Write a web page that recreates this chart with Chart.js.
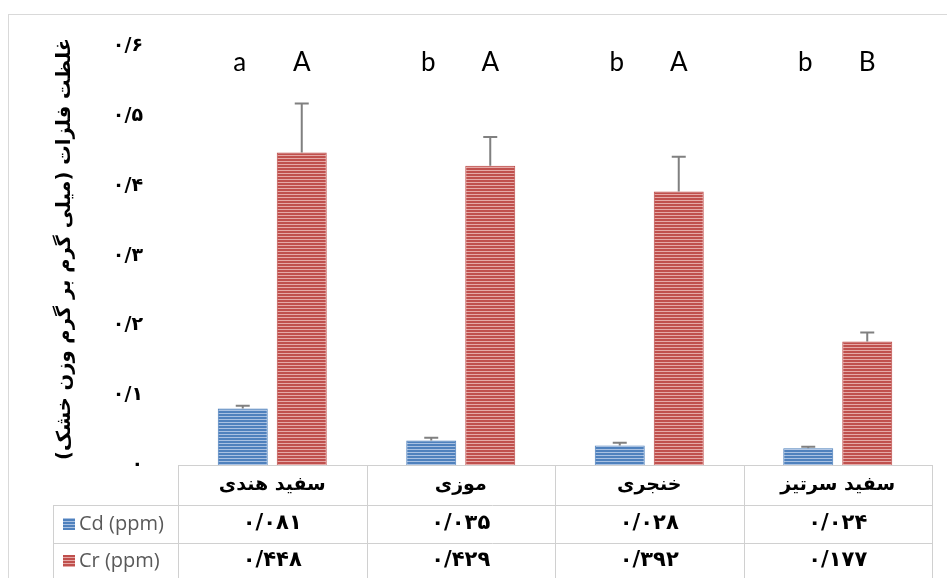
<!DOCTYPE html>
<html>
<head>
<meta charset="utf-8">
<script src="https://cdn.jsdelivr.net/npm/chart.js@4"></script>
<style>
  html, body { margin: 0; padding: 0; background: #fff; }
  canvas { display: block; }
</style>
</head>
<body>
<canvas id="chart" width="947" height="578"></canvas>
<script>
// data
const categories = ['سفید هندی', 'موزی', 'خنجری', 'سفید سرتیز']
const seriesNames = ['Cd (ppm)', 'Cr (ppm)']
const cdValues = [0.081, 0.035, 0.028, 0.024]
const crValues = [0.448, 0.429, 0.392, 0.177]
const cdErrors = [0.004, 0.004, 0.004, 0.002]
const crErrors = [0.070, 0.041, 0.050, 0.013]
const cdLetters = ['a', 'b', 'b', 'b']
const crLetters = ['A', 'A', 'A', 'B']
const yTicks = [0, 0.1, 0.2, 0.3, 0.4, 0.5, 0.6]
const yTitle = 'غلظت فلزات (میلی گرم بر گرم وزن خشک)'

const faDigits = '۰۱۲۳۴۵۶۷۸۹'
function toFa(v, dec) {
    if (v === 0) return '۰'
    return v.toFixed(dec).replace('.', '/').replace(/[0-9]/g, d => faDigits[d])
}

const canvas = document.getElementById('chart')
const ctx = canvas.getContext('2d')

function stripes(base, light) {
    const c = document.createElement('canvas')
    c.width = 4
    c.height = 3
    const g = c.getContext('2d')
    g.fillStyle = base
    g.fillRect(0, 0, 4, 3)
    g.fillStyle = light
    g.fillRect(0, 2, 4, 1)
    return ctx.createPattern(c, 'repeat')
}

const blueFill = stripes('#4f81bd', '#a9c1e2')
const redFill = stripes('#c0504d', '#e5a9a7')
const errors = [cdErrors, crErrors]
const letters = [cdLetters, crLetters]
const persianFont = '"DejaVu Sans", sans-serif'

const extras = {
    id: 'extras',
    beforeDraw(chart) {
        const c = chart.ctx
        c.save()
        c.fillStyle = '#fff'
        c.fillRect(0, 0, chart.width, chart.height)
        c.strokeStyle = '#d9d9d9'
        c.lineWidth = 1
        c.strokeRect(8.5, 14.5, 1000, 1000)
        c.restore()
    },
    afterDatasetsDraw(chart) {
        const c = chart.ctx
        const y = chart.scales.y
        c.save()
        c.strokeStyle = '#808080'
        c.lineWidth = 2
        chart.data.datasets.forEach((ds, i) => {
            chart.getDatasetMeta(i).data.forEach((bar, j) => {
                const top = y.getPixelForValue(ds.data[j] + errors[i][j])
                c.beginPath()
                c.moveTo(bar.x, bar.y)
                c.lineTo(bar.x, top)
                c.moveTo(bar.x - 7, top)
                c.lineTo(bar.x + 7, top)
                c.stroke()
            })
        })
        c.restore()
    },
    afterDraw(chart) {
        const c = chart.ctx
        const area = chart.chartArea
        const x = chart.scales.x
        c.save()

        // significance letters
        c.fillStyle = '#000'
        c.font = '26px Lato, sans-serif'
        c.textAlign = 'center'
        c.textBaseline = 'middle'
        chart.data.datasets.forEach((ds, i) => {
            chart.getDatasetMeta(i).data.forEach((bar, j) => {
                c.fillText(letters[i][j], bar.x - (i === 0 ? 3 : 0), 63)
            })
        })

        // y axis title
        c.save()
        c.translate(65, 249)
        c.rotate(-Math.PI / 2)
        c.direction = 'rtl'
        c.font = 'bold 19.5px ' + persianFont
        c.fillText(yTitle, 0, 0)
        c.restore()

        // data table
        const half = (x.getPixelForValue(1) - x.getPixelForValue(0)) / 2
        const left = area.left
        const right = area.right
        const rowTop = area.bottom
        const row1 = rowTop + 40
        const row2 = row1 + 38
        const bottom = chart.height + 2
        const keyLeft = 53
        c.strokeStyle = '#d0d0d0'
        c.lineWidth = 1
        c.beginPath()
        c.moveTo(left, rowTop + 0.5); c.lineTo(right, rowTop + 0.5)
        c.moveTo(keyLeft, row1 + 0.5); c.lineTo(right, row1 + 0.5)
        c.moveTo(keyLeft, row2 + 0.5); c.lineTo(right, row2 + 0.5)
        c.moveTo(keyLeft + 0.5, row1); c.lineTo(keyLeft + 0.5, bottom)
        categories.forEach((cat, j) => {
            const xl = Math.round(x.getPixelForValue(j) - half) + 0.5
            c.moveTo(xl, rowTop); c.lineTo(xl, bottom)
        })
        c.moveTo(Math.round(right) + 0.5, rowTop); c.lineTo(Math.round(right) + 0.5, bottom)
        c.stroke()

        c.fillStyle = '#000'
        c.textAlign = 'center'
        c.textBaseline = 'middle'
        categories.forEach((cat, j) => {
            const cx = x.getPixelForValue(j)
            c.direction = 'rtl'
            c.font = 'bold 19px ' + persianFont
            c.fillText(cat, cx, rowTop + 20)
            c.direction = 'ltr'
            c.font = 'bold 21px ' + persianFont
            c.fillText(toFa(cdValues[j], 3), cx, row1 + 19)
            c.fillText(toFa(crValues[j], 3), cx, row2 + 18)
        })

        // legend keys in the table
        const keys = [blueFill, redFill]
        c.textAlign = 'left'
        c.font = '20px "Open Sans", sans-serif'
        seriesNames.forEach((name, i) => {
            const cy = (i === 0 ? row1 + 19 : row2 + 18)
            c.fillStyle = keys[i]
            c.fillRect(63, cy - 6, 12, 12)
            c.fillStyle = '#595959'
            c.fillText(name, 79, cy)
        })
        c.restore()
    }
}

new Chart(ctx, {
    type: 'bar',
    data: {
        labels: categories,
        datasets: [
            {
                label: seriesNames[0],
                data: cdValues,
                backgroundColor: blueFill,
                borderColor: '#4a7ebb',
                borderWidth: 1
            },
            {
                label: seriesNames[1],
                data: crValues,
                backgroundColor: redFill,
                borderColor: '#be4b48',
                borderWidth: 1
            }
        ]
    },
    options: {
        responsive: false,
        animation: false,
        layout: { padding: { left: 45, right: 15, top: 44, bottom: 113 } },
        datasets: { bar: { categoryPercentage: 0.626, barPercentage: 0.847 } },
        plugins: { legend: { display: false }, tooltip: { enabled: false } },
        scales: {
            x: { display: false },
            y: {
                min: 0,
                max: 0.6,
                afterFit(scale) { scale.width = 133 },
                afterBuildTicks(scale) { scale.ticks = yTicks.map(v => ({ value: v })) },
                grid: { display: false, drawTicks: false },
                border: { display: false },
                ticks: {
                    padding: 35,
                    color: '#000',
                    font: { family: 'DejaVu Sans', size: 19, weight: 'bold' },
                    callback: v => toFa(v, 1)
                }
            }
        }
    },
    plugins: [extras]
})
</script>
</body>
</html>
